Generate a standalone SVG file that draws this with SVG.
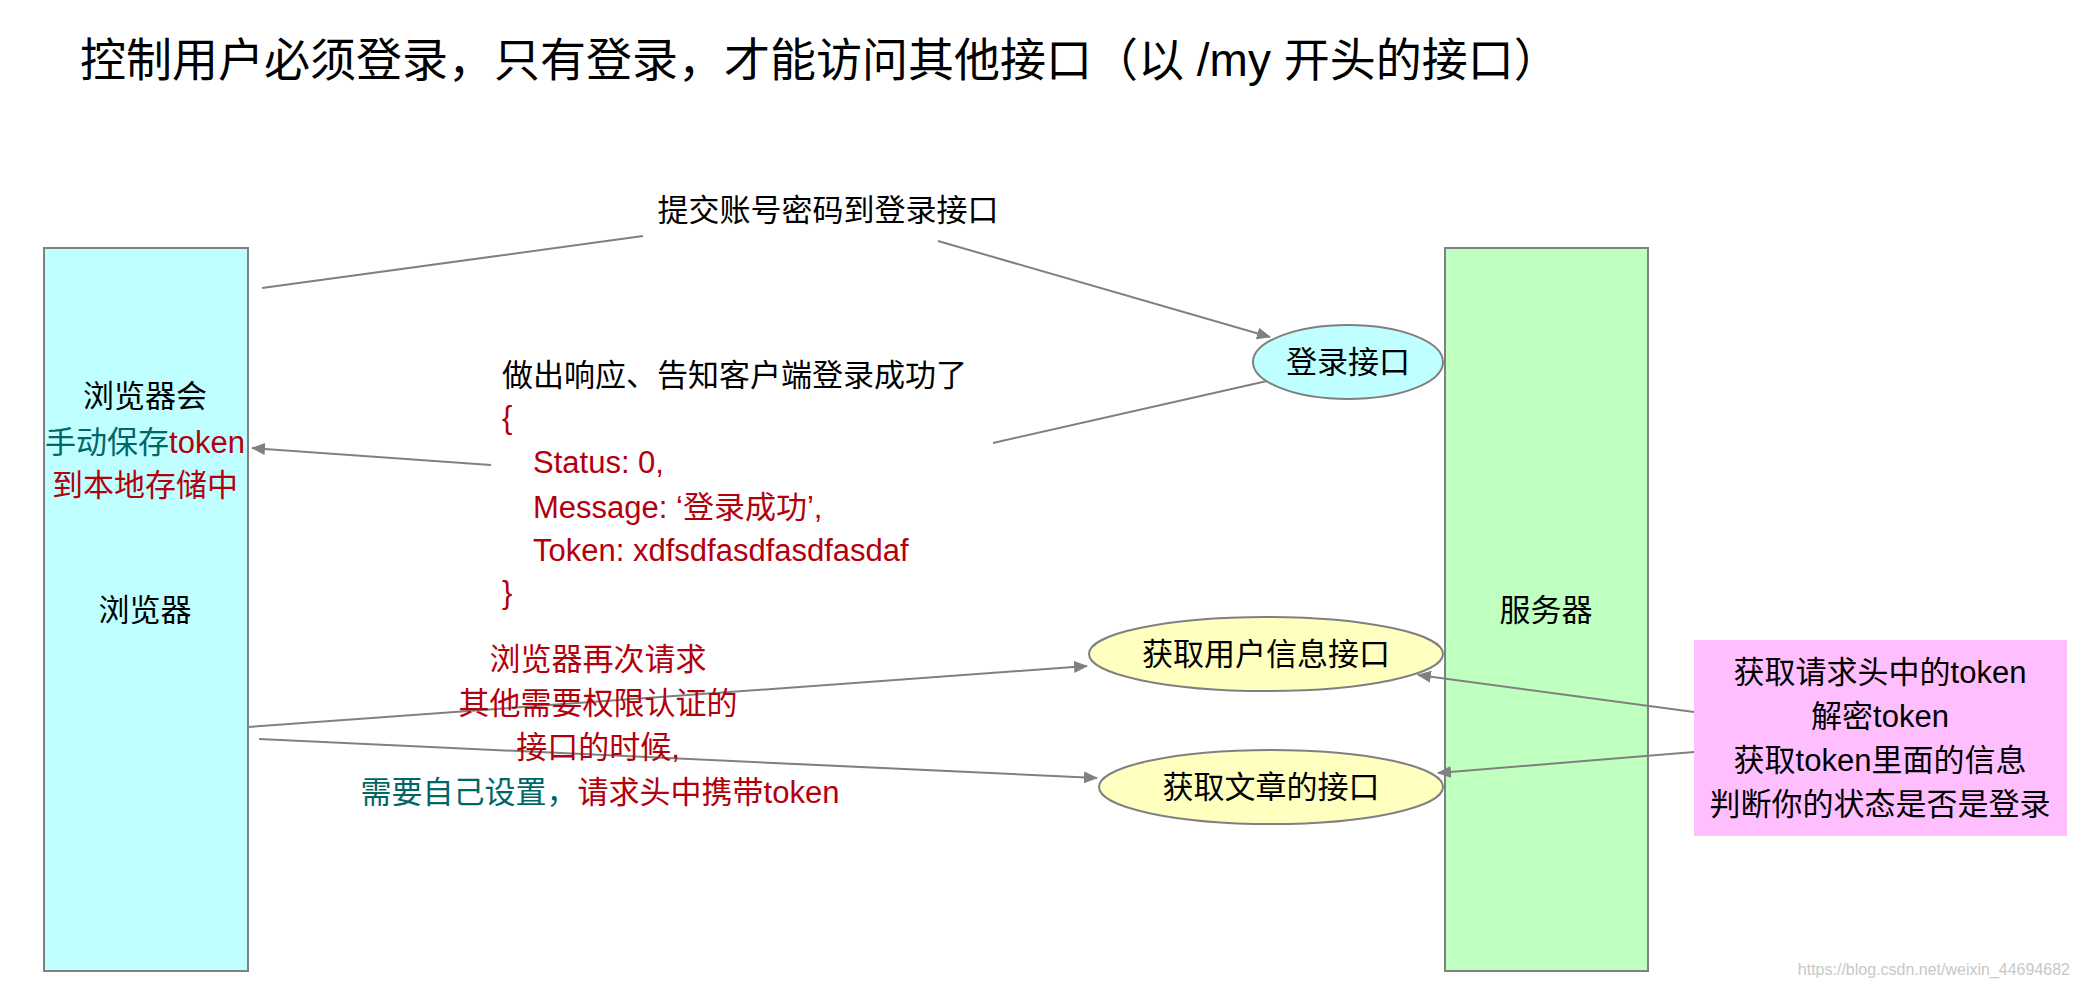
<svg xmlns="http://www.w3.org/2000/svg" width="2082" height="988" viewBox="0 0 2082 988">
<style>
text{font-family:"Liberation Sans","Noto Sans CJK SC",sans-serif;font-size:31px;fill:#000}
.m{text-anchor:middle;dominant-baseline:central}
.r{fill:#b3000d}.t{fill:#006666}
.box{stroke:#808080;stroke-width:2}
.c line{stroke:#808080;stroke-width:2}
</style>
<defs><marker id="a" markerWidth="14" markerHeight="14" refX="13" refY="6" orient="auto" markerUnits="userSpaceOnUse" viewBox="0 0 14 12"><path d="M0,0L14,6L0,12z" fill="#808080"/></marker></defs>
<rect width="2082" height="988" fill="#fff"/>
<text x="80" y="76" style="font-size:46px">控制用户必须登录，只有登录，才能访问其他接口（以 /my 开头的接口）</text>
<g id="browser"><rect class="box" x="44" y="248" width="204" height="723" fill="#bfffff"/>
<text class="m" x="145" y="396">浏览器会</text>
<text class="m t" x="145" y="442">手动保存<tspan class="r">token</tspan></text>
<text class="m r" x="145" y="485">到本地存储中</text>
<text class="m" x="145" y="610">浏览器</text></g>
<g id="server"><rect class="box" x="1445" y="248" width="203" height="723" fill="#bfffbf"/>
<text class="m" x="1546" y="610">服务器</text></g>
<g id="login"><ellipse class="box" cx="1348" cy="362" rx="95" ry="37" fill="#bfffff"/><text class="m" x="1348" y="362">登录接口</text></g>
<g id="userinfo"><ellipse class="box" cx="1266" cy="654" rx="177" ry="37" fill="#ffffbf"/><text class="m" x="1266" y="654">获取用户信息接口</text></g>
<g id="article"><ellipse class="box" cx="1271" cy="787" rx="172" ry="37" fill="#ffffbf"/><text class="m" x="1271" y="787">获取文章的接口</text></g>
<g id="check"><rect x="1694" y="640" width="373" height="196" fill="#ffbfff"/>
<text class="m" x="1880" y="672">获取请求头中的token</text>
<text class="m" x="1880" y="716">解密token</text>
<text class="m" x="1880" y="760">获取token里面的信息</text>
<text class="m" x="1880" y="804">判断你的状态是否是登录</text></g>
<g class="c">
<line x1="262" y1="288" x2="643" y2="236"/>
<line x1="938" y1="241" x2="1270" y2="337" marker-end="url(#a)"/>
<line x1="1267" y1="381" x2="993" y2="443"/>
<line x1="491" y1="465" x2="252" y2="448" marker-end="url(#a)"/>
<line x1="248" y1="727" x2="1087" y2="666" marker-end="url(#a)"/>
<line x1="259" y1="739" x2="1097" y2="778" marker-end="url(#a)"/>
<line x1="1694" y1="712" x2="1418" y2="675" marker-end="url(#a)"/>
<line x1="1694" y1="752" x2="1438" y2="773" marker-end="url(#a)"/>
</g>
<g id="labels">
<text class="m" x="828" y="210">提交账号密码到登录接口</text>
<text x="502" y="386">做出响应、告知客户端登录成功了</text>
<text class="r" x="502" y="428">{</text>
<text class="r" x="533" y="473">Status: 0,</text>
<text class="r" x="533" y="518">Message: ‘登录成功’,</text>
<text class="r" x="533" y="561">Token: xdfsdfasdfasdfasdaf</text>
<text class="r" x="502" y="603">}</text>
<text class="m r" x="598" y="659">浏览器再次请求</text>
<text class="m r" x="598" y="703">其他需要权限认证的</text>
<text class="m r" x="598" y="747">接口的时候,</text>
<text class="m t" x="600" y="792">需要自己设置，<tspan class="r">请求头中携带token</tspan></text>
<text x="2070" y="975" style="font-size:16px;fill:#c8c8c8;text-anchor:end">https://blog.csdn.net/weixin_44694682</text>
</g>
</svg>
